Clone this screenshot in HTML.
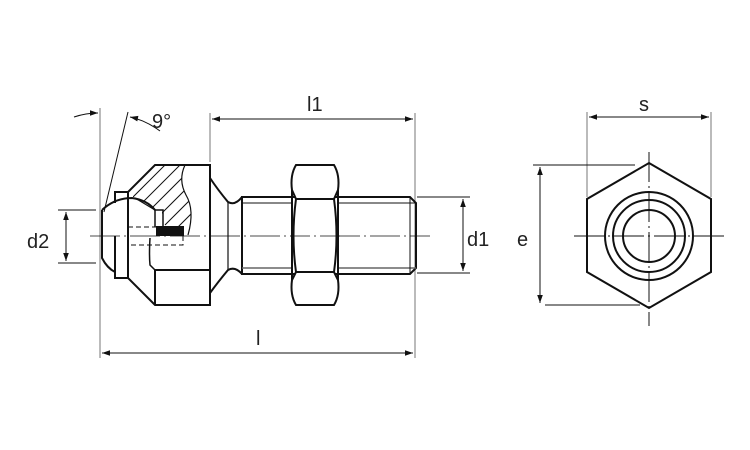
<!DOCTYPE html><html><head><style>body{margin:0;background:#fff}svg{display:block}text{font-family:"Liberation Sans",sans-serif;font-size:20px;fill:#222}</style></head><body>
<svg width="750" height="450" viewBox="0 0 750 450" xmlns="http://www.w3.org/2000/svg">
<defs><marker id="a" viewBox="0 0 10 10" refX="10" refY="5" markerWidth="10" markerHeight="8" orient="auto-start-reverse"><path d="M0,1.5 L10,5 L0,8.5 Z" fill="#111"/></marker>
<clipPath id="h"><path d="M133,190 L155,165 L185,165 Q178,180 186,195 Q195,210 188,235 L183,235 L183,227 L162,227 L162,210 L155,210 Q145,200 133,197 Z"/></clipPath></defs>
<g stroke="#111" fill="none" stroke-width="1">
<line x1="100" y1="108" x2="100" y2="358" stroke="#777"/>
<line x1="210" y1="113" x2="210" y2="162" stroke="#777"/>
<line x1="415" y1="113" x2="415" y2="358" stroke="#777"/>
<line x1="417" y1="197" x2="470" y2="197"/><line x1="417" y1="273" x2="470" y2="273"/>
<line x1="58" y1="210" x2="96" y2="210"/><line x1="58" y1="263" x2="96" y2="263"/>
<line x1="212" y1="119" x2="413" y2="119" marker-start="url(#a)" marker-end="url(#a)"/>
<line x1="102" y1="353" x2="413" y2="353" marker-start="url(#a)" marker-end="url(#a)"/>
<line x1="463" y1="199" x2="463" y2="271" marker-start="url(#a)" marker-end="url(#a)"/>
<line x1="66" y1="212" x2="66" y2="261" marker-start="url(#a)" marker-end="url(#a)"/>
<path d="M74,117 Q86,113 98,113" marker-end="url(#a)"/>
<path d="M160,131 Q145,120 130,117" marker-end="url(#a)"/>
<line x1="128" y1="112" x2="104" y2="212"/>
<line x1="90" y1="236" x2="430" y2="236" stroke-dasharray="30,4,2,4" stroke-width="0.8"/>
</g>
<g stroke="#111" stroke-width="1" clip-path="url(#h)">
<line x1="170" y1="160" x2="120" y2="210"/><line x1="185" y1="160" x2="135" y2="210"/><line x1="200" y1="160" x2="150" y2="210"/><line x1="205" y1="170" x2="160" y2="215"/><line x1="210" y1="180" x2="165" y2="225"/><line x1="215" y1="190" x2="175" y2="230"/>
</g>
<g stroke="#111" fill="none" stroke-width="2">
<path d="M155,165 L210,165 L210,305 L155,305 L128,278 L128,192 Z"/>
<line x1="155" y1="270" x2="210" y2="270"/>
<line x1="155" y1="270" x2="155" y2="305"/>
<path d="M150,238 Q149,255 150,265 L155,270" stroke-width="1.5"/>
<path d="M155,210 L163,210 L163,227 M155,210 L155,227" stroke-width="1.5"/>
<path d="M185,165 Q178,180 186,195 Q195,210 188,235" stroke-width="1.2"/>
<line x1="135" y1="198" x2="155" y2="210" stroke-width="1.2"/>
<path d="M115,203 L115,192 L128,192 M115,236 L115,278 L128,278"/>
<path d="M102,210 Q115,198 132,198 Q147,200 155,210"/>
<path d="M102,210 L102,258 Q107,268 115,272"/>
<rect x="157" y="227" width="26" height="8" fill="#111"/>
<path d="M210,178 Q218,190 228,202 Q235,206 242,197 M210,293 Q218,282 228,270 Q235,266 242,274"/>
<line x1="228" y1="202" x2="228" y2="270" stroke-width="1.2"/>
<path d="M242,197 L410,197 L416,203 L416,268 L410,274 L242,274 Z"/>
<line x1="242" y1="203" x2="416" y2="203" stroke-width="1"/>
<line x1="242" y1="268" x2="416" y2="268" stroke-width="1.5" stroke="#666"/>
<line x1="410" y1="197" x2="410" y2="274" stroke-width="1"/>
<path d="M296,165 L334,165 Q340,175 338,190 L334,199 L296,199 L292,190 Q290,175 296,165 Z" fill="#fff"/>
<path d="M296,305 L334,305 Q340,295 338,280 L334,272 L296,272 L292,280 Q290,295 296,305 Z" fill="#fff"/>
<rect x="292" y="199" width="46" height="73" fill="#fff" stroke="none"/>
<path d="M296,199 Q291,236 296,272 M334,199 Q339,236 334,272 M296,199 L334,199 M296,272 L334,272"/>
<line x1="292" y1="190" x2="292" y2="280"/><line x1="338" y1="190" x2="338" y2="280"/>
</g>
<g stroke="#111" stroke-width="1" fill="none">
<rect x="128" y="227" width="55" height="18" stroke-dasharray="5,3"/>
<line x1="290" y1="236" x2="340" y2="236" stroke-dasharray="20,4,2,4" stroke-width="0.8"/>
</g>
<g stroke="#111" fill="none" stroke-width="1">
<line x1="587" y1="112" x2="587" y2="197" stroke="#777"/><line x1="711" y1="112" x2="711" y2="197" stroke="#777"/>
<line x1="589" y1="117" x2="709" y2="117" marker-start="url(#a)" marker-end="url(#a)"/>
<line x1="533" y1="165" x2="635" y2="165"/><line x1="545" y1="305" x2="640" y2="305"/>
<line x1="540" y1="167" x2="540" y2="303" marker-start="url(#a)" marker-end="url(#a)"/>
<line x1="574" y1="236" x2="725" y2="236" stroke-dasharray="30,4,2,4"/>
<line x1="649" y1="152" x2="649" y2="326" stroke-dasharray="30,4,2,4"/>
</g>
<g stroke="#111" fill="none" stroke-width="2">
<polygon points="649,163 711,199 711,272 649,308 587,272 587,199"/>
<circle cx="649" cy="236" r="44"/><circle cx="649" cy="236" r="36"/><circle cx="649" cy="236" r="26"/>
</g>
<text x="307" y="111">l1</text>
<text x="256" y="345">l</text>
<text x="467" y="246">d1</text>
<text x="27" y="248">d2</text>
<text x="152" y="128">9°</text>
<text x="639" y="111">s</text>
<text x="517" y="246">e</text>
</svg></body></html>
